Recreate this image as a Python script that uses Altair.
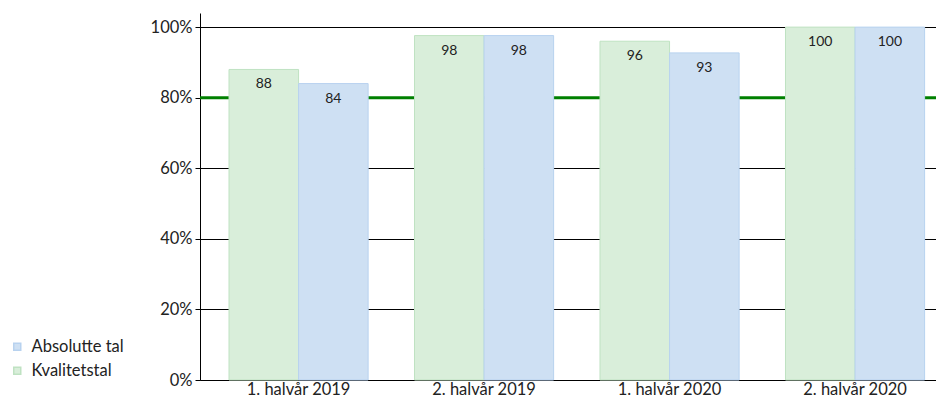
import altair as alt
import pandas as pd

categories = ["1. halvår 2019", "2. halvår 2019", "1. halvår 2020", "2. halvår 2020"]
kvalitetstal = [88, 97.6, 96, 100]
absolutte_tal = [84, 97.6, 92.7, 100]
target = [80]
series_names = ["Absolutte tal", "Kvalitetstal"]
y_ticks = [0, 20, 40, 60, 80, 100]

rows = []
for c, k, a in zip(categories, kvalitetstal, absolutte_tal):
    rows.append({"periode": c, "serie": "Kvalitetstal", "value": k})
    rows.append({"periode": c, "serie": "Absolutte tal", "value": a})
df = pd.DataFrame(rows)
df_target = pd.DataFrame({"value": target})

FONT = "Lato"
TXT = "#222222"
FS = 16.5

x_enc = alt.X(
    "periode:N",
    sort=categories,
    title=None,
    scale=alt.Scale(paddingInner=0.25, paddingOuter=0.1089, align=0.718, round=False),
    axis=alt.Axis(labelAngle=0, ticks=False, domainColor="#000000", domainWidth=1,
                  labelFontSize=FS, labelFont=FONT, labelColor=TXT, labelPadding=1),
)
y_enc = alt.Y(
    "value:Q",
    title=None,
    scale=alt.Scale(domain=[0, 104], nice=False, zero=True),
    axis=alt.Axis(values=y_ticks, labelExpr="datum.value + '%'", grid=True,
                  gridColor="#000000", gridWidth=1, domainColor="#000000", domainWidth=1,
                  tickColor="#000000", tickSize=5, labelPadding=3,
                  labelFontSize=FS, labelFont=FONT, labelColor=TXT),
)
xoff = alt.XOffset("serie:N", sort=["Kvalitetstal", "Absolutte tal"],
                   scale=alt.Scale(paddingInner=0, paddingOuter=0))

rule = alt.Chart(df_target).mark_rule(color="#008000", strokeWidth=3).encode(y=y_enc)

bars = alt.Chart(df).mark_bar(strokeWidth=1).encode(
    x=x_enc,
    xOffset=xoff,
    y=y_enc,
    color=alt.Color("serie:N", title=None,
                    scale=alt.Scale(domain=series_names, range=["#cee0f3", "#d9eeda"]),
                    legend=alt.Legend(orient="none", legendX=-191, legendY=325.5,
                                      symbolType="square", symbolSize=49,
                                      labelFontSize=FS, labelFont=FONT, labelColor=TXT,
                                      labelOffset=6, rowPadding=7, padding=0)),
    stroke=alt.Stroke("serie:N", title=None,
                      scale=alt.Scale(domain=series_names, range=["#b8d2ef", "#bfe2c2"]),
                      legend=None),
)

labels = alt.Chart(df).mark_text(baseline="middle", dy=15, fontSize=14, font=FONT, color=TXT).encode(
    x=alt.X("periode:N", sort=categories),
    xOffset=xoff,
    y=alt.Y("value:Q"),
    text=alt.Text("value:Q", format=".0f"),
)

chart = alt.layer(rule, bars, labels).properties(
    width=736,
    height=367,
    autosize=alt.AutoSizeParams(type="none"),
    padding={"left": 192, "top": 5, "right": 0, "bottom": 18},
).configure_view(stroke=None)

chart.save("out.html", embed_options={"renderer": "svg", "actions": False})
